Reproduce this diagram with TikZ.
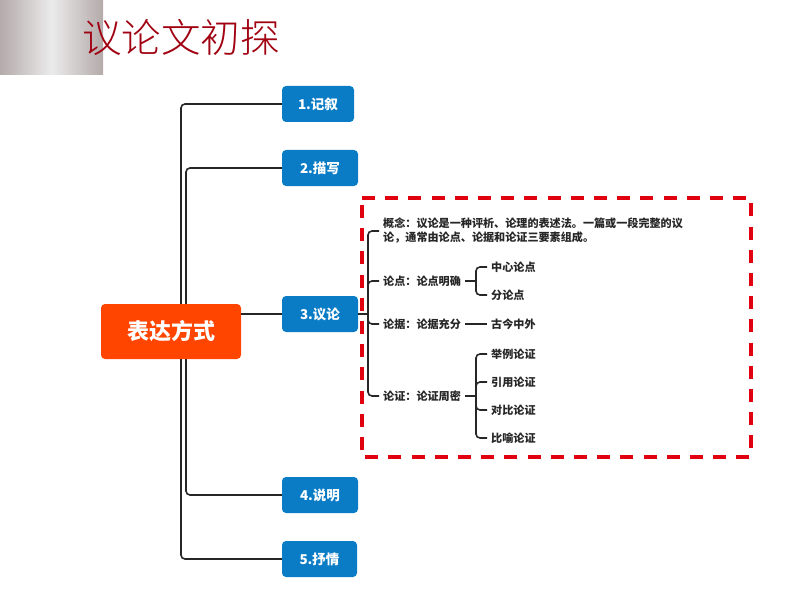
\documentclass[tikz,border=0pt]{standalone}
\usepackage{fontspec}
\setmainfont{Noto Sans CJK SC}
\newfontfamily\titlefont{Noto Sans CJK SC Light}
\tikzset{
  rootbox/.style={fill=rootred,rounded corners=4pt,text=white,inner sep=0pt,font=\fontsize{22}{26}\selectfont\bfseries},
  bluebox/.style={fill=boxblue,rounded corners=4pt,text=white,inner sep=0pt,minimum height=36pt,font=\fontsize{13.5}{16}\selectfont\bfseries},
  item/.style={anchor=west,align=left,inner xsep=4pt,inner ysep=0pt,text=black!85,font=\fontsize{11.1}{14}\selectfont\bfseries},
  link/.style={line width=1.6pt,black!85,rounded corners=4pt},
  frameline/.style={line width=3.2pt,framered,dash pattern=on 13pt off 10.2pt}
}
\definecolor{rootred}{HTML}{FF4500}
\definecolor{boxblue}{HTML}{0A7CC6}
\definecolor{framered}{HTML}{E0000F}
\definecolor{titlered}{HTML}{A00010}
\definecolor{metalgray}{HTML}{B4AAAA}
\definecolor{metallight}{HTML}{EBEBEB}
\begin{document}
\begin{tikzpicture}[x=1pt,y=-1pt]
  \useasboundingbox (0,0) rectangle (794,596);
  \fill[left color=metalgray,right color=metalgray,middle color=metallight] (0,0) rectangle (103,75);
  \node[anchor=west,inner sep=0pt,text=titlered,font=\fontsize{39.5}{44}\selectfont\titlefont] (title) at (82,37) {议论文初探};
  \node[rootbox,minimum width=140pt,minimum height=55pt] (root) at (171,331.5) {表达方式};
  \node[bluebox,minimum width=72pt] (n1) at (318,104) {1.记叙};
  \node[bluebox,minimum width=76pt] (n2) at (320,168) {2.描写};
  \node[bluebox,minimum width=76pt] (n3) at (320,314) {3.议论};
  \node[bluebox,minimum width=76pt] (n4) at (320,495) {4.说明};
  \node[bluebox,minimum width=75pt] (n5) at (319.5,559) {5.抒情};
  \begin{scope}
    \draw[link] ([xshift=10pt]root.north) |- (n1.west);
    \draw[link] ([xshift=15pt]root.north) |- (n2.west);
    \draw[link] (root.east |- n3) -- (n3.west);
    \draw[link] ([xshift=15pt]root.south) |- (n4.west);
    \draw[link] ([xshift=10pt]root.south) |- (n5.west);
  \end{scope}
  \draw[frameline] (362,198) -- (751,198) -- (751,457) -- (362,457) -- cycle;
  \node[item] (gainian) at (379,231) {概念：议论是一种评析、论理的表述法。一篇或一段完整的议\\论，通常由论点、论据和论证三要素组成。};
  \node[item] (lundian) at (379,281) {论点：论点明确};
  \node[item] (lunju) at (379,324) {论据：论据充分};
  \node[item] (lunzheng) at (379,396) {论证：论证周密};
  \node[item] (zhongxin) at (487,267) {中心论点};
  \node[item] (fen) at (487,295) {分论点};
  \node[item] (gujin) at (487,324) {古今中外};
  \node[item] (juli) at (487,354) {举例论证};
  \node[item] (yinyong) at (487,382) {引用论证};
  \node[item] (duibi) at (487,410) {对比论证};
  \node[item] (biyu) at (487,438) {比喻论证};
  \coordinate (hubmain) at (368,314);
  \coordinate (hubdian) at (476,281);
  \coordinate (hubzheng) at (476,396);
  \begin{scope}
    \draw[link] (n3.east) -- (hubmain);
    \draw[link] (hubmain) |- (gainian.west);
    \draw[link] (hubmain |- lundian) ++(0,5) |- (lundian.west);
    \draw[link] (hubmain |- lunju) ++(0,-5) |- (lunju.west);
    \draw[link] (hubmain) |- (lunzheng.west);
    \draw[link] (lundian.east) -- (hubdian);
    \draw[link] (hubdian) |- (zhongxin.west);
    \draw[link] (hubdian) |- (fen.west);
    \draw[link] (lunju.east) -- (gujin.west);
    \draw[link] (lunzheng.east) -- (hubzheng);
    \draw[link] (hubzheng) |- (juli.west);
    \draw[link] (hubzheng) ++(0,-9) |- (yinyong.west);
    \draw[link] (hubzheng) ++(0,9) |- (duibi.west);
    \draw[link] (hubzheng) |- (biyu.west);
  \end{scope}
\end{tikzpicture}
\end{document}
